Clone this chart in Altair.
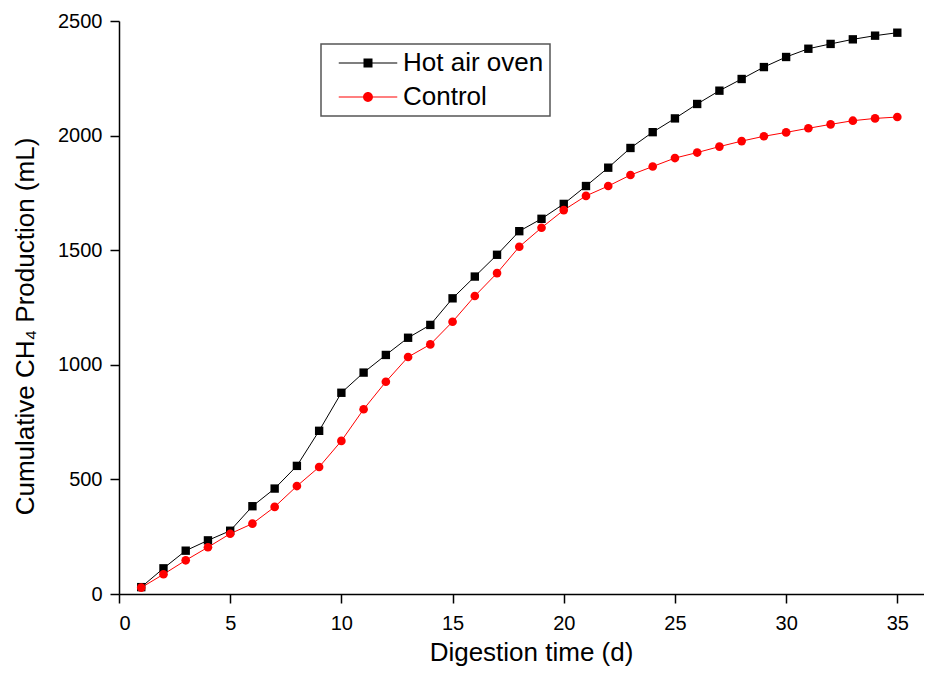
import altair as alt
import pandas as pd

days = list(range(1, 36))
hot_air_oven = [30, 112, 189, 234, 276, 383, 460, 559, 712, 878,
                966, 1043, 1118, 1174, 1290, 1385, 1480, 1583, 1637, 1702,
                1780, 1860, 1946, 2015, 2075, 2138, 2196, 2247, 2299, 2343,
                2379, 2400, 2420, 2436, 2449]
control = [28, 86, 147, 204, 263, 307, 380, 471, 554, 668,
           806, 926, 1034, 1089, 1188, 1300, 1400, 1515, 1598, 1675,
           1737, 1780, 1828, 1865, 1902, 1926, 1952, 1976, 1997, 2014,
           2032, 2049, 2065, 2075, 2081]
series_names = ["Hot air oven", "Control"]
series_colors = ["#000000", "#ff0000"]
x_ticks = [0, 5, 10, 15, 20, 25, 30, 35]
y_ticks = [0, 500, 1000, 1500, 2000, 2500]

df = pd.DataFrame({
    "day": days * 2,
    "value": hot_air_oven + control,
    "series": [series_names[0]] * len(days) + [series_names[1]] * len(days),
})

FONT = "Liberation Sans"

x_enc = alt.X("day:Q",
              scale=alt.Scale(domain=[0, 36.2], nice=False, zero=False),
              axis=alt.Axis(values=x_ticks, format="d", title="Digestion time (d)",
                            titleX=412, titleY=66, titleBaseline="alphabetic",
                            titleAlign="center", labelPadding=10))
y_enc = alt.Y("value:Q",
              scale=alt.Scale(domain=[0, 2500], nice=False),
              axis=alt.Axis(values=y_ticks, format="d",
                            title="Cumulative CH\u2084 Production (mL)",
                            titleX=-85.5, titleY=305, titleBaseline="alphabetic",
                            titleAlign="center", labelPadding=8))

base = alt.Chart(df).encode(x=x_enc, y=y_enc)

hot = base.transform_filter(alt.datum.series == series_names[0])
ctrl = base.transform_filter(alt.datum.series == series_names[1])

hot_line = hot.mark_line(color=series_colors[0], strokeWidth=1)
hot_pts = hot.mark_point(shape="square", filled=True, size=70, color=series_colors[0], opacity=1)
ctrl_line = ctrl.mark_line(color=series_colors[1], strokeWidth=1)
ctrl_pts = ctrl.mark_point(shape="circle", filled=True, size=75, color=series_colors[1], opacity=1)

sq_path = "M-6.5,-0.12H6.5V0.12H-6.5Z M-1,-1H1V1H-1Z"
ci_path = "M-6.5,-0.12H6.5V0.12H-6.5Z M-1.1,0A1.1,1.1 0 1,1 1.1,0A1.1,1.1 0 1,1 -1.1,0Z"

legend_layer = base.transform_filter("false").mark_point(filled=True, size=81, opacity=1).encode(
    color=alt.Color("series:N",
                    scale=alt.Scale(domain=series_names, range=series_colors),
                    legend=alt.Legend(title=None, orient="none", legendX=202, legendY=23,
                                      symbolSize=81, symbolStrokeWidth=0,
                                      symbolOffset=28, labelOffset=22,
                                      labelFont=FONT, labelFontSize=26, labelColor="black",
                                      rowPadding=8, padding=6,
                                      strokeColor="#555555", fillColor="white",
                                      symbolOpacity=1)),
    shape=alt.Shape("series:N",
                    scale=alt.Scale(domain=series_names, range=[sq_path, ci_path])),
)

chart = alt.layer(hot_line, ctrl_line, hot_pts, ctrl_pts, legend_layer).properties(
    width=805, height=573,
    autosize="none",
    padding={"left": 111, "top": 13, "right": 0, "bottom": 74},
).configure_view(stroke=None).configure_axis(
    labelFont=FONT, titleFont=FONT,
    labelFontSize=20, titleFontSize=26, titleFontWeight="normal",
    labelColor="black", titleColor="black",
    domainColor="black", tickColor="black",
    domainWidth=1.5, tickWidth=1.5, tickSize=9, grid=False,
).configure_legend(strokeWidth=1.5)

chart.save("out.html", embed_options={"renderer": "svg", "actions": False})
